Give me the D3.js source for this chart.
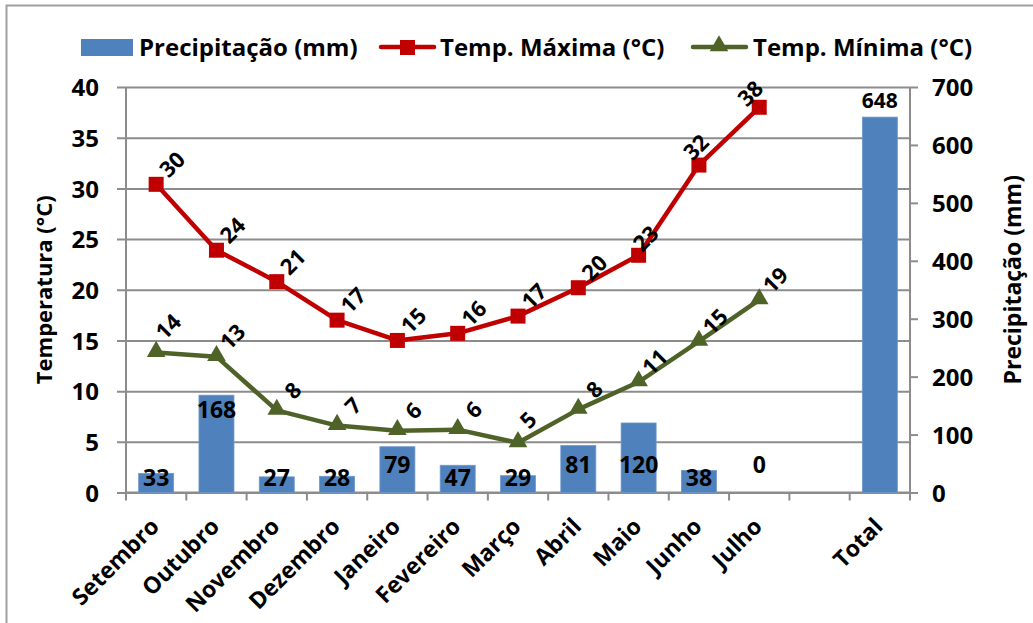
<!DOCTYPE html>
<html>
<head>
<meta charset="utf-8">
<script src="https://cdn.jsdelivr.net/npm/d3@7/dist/d3.min.js"></script>
<style>
  html, body { margin: 0; padding: 0; background: #fff; }
  svg { display: block; font-family: "Open Sans", Lato, sans-serif; font-weight: bold; }
</style>
</head>
<body>
<svg id="chart" width="1033" height="623"></svg>
<script>
// Monthly climate data
const months = ["Setembro", "Outubro", "Novembro", "Dezembro", "Janeiro", "Fevereiro",
                "Março", "Abril", "Maio", "Junho", "Julho"];
const totalLabel = "Total";
const precipitation = [33, 168, 27, 28, 79, 47, 29, 81, 120, 38, 0];
const precipitationTotal = 648;
const tempMax = [30.4, 23.9, 20.8, 17.0, 15.0, 15.7, 17.4, 20.2, 23.4, 32.3, 38.0];
const tempMin = [13.8, 13.4, 8.1, 6.6, 6.1, 6.2, 4.9, 8.2, 10.9, 14.9, 19.0];
const tempTicks = [0, 5, 10, 15, 20, 25, 30, 35, 40];
const precipTicks = [0, 100, 200, 300, 400, 500, 600, 700];

const C_BAR = "#4F81BD", C_MAX = "#C00000", C_MIN = "#4F6228", C_GRID = "#8C8C8C";

const svg = d3.select("#chart");
const pL = 126, pR = 910, pT = 87, pB = 492.5;

// Category slots: the months, a blank gap, then the total column
const cats = months.concat([" ", totalLabel]);
const x = d3.scaleBand().domain(cats).range([pL, pR]).paddingInner(0).paddingOuter(0);
const yT = d3.scaleLinear().domain([0, 40]).range([pB, pT]);
const yP = d3.scaleLinear().domain([0, 700]).range([pB, pT]);
const cx = c => x(c) + x.bandwidth() / 2;

// Outer frame
svg.append("rect").attr("x", 6.5).attr("y", 5.5).attr("width", 1040).attr("height", 640)
  .attr("fill", "none").attr("stroke", "#A0A0A0").attr("stroke-width", 2);

// Horizontal gridlines + left axis ticks
const gridAxis = d3.axisLeft(yT).tickValues(tempTicks).tickSize(-(pR - pL)).tickFormat(d3.format("d"));
const gL = svg.append("g").attr("transform", `translate(${pL},0)`).call(gridAxis);
gL.select(".domain").remove();
gL.selectAll(".tick line").attr("stroke", C_GRID).attr("stroke-width", 2).attr("x1", -9);
gL.selectAll(".tick text").attr("x", -27).attr("dy", "0.36em")
  .attr("font-size", 24).attr("fill", "#000").attr("font-family", "\"Open Sans\", sans-serif");

// Left axis line
svg.append("line").attr("x1", pL).attr("x2", pL).attr("y1", pT).attr("y2", pB + 7)
  .attr("stroke", C_GRID).attr("stroke-width", 2);

// Right axis
const gR = svg.append("g").attr("transform", `translate(${pR},0)`)
  .call(d3.axisRight(yP).tickValues(precipTicks).tickSize(8).tickFormat(d3.format("d")));
gR.select(".domain").attr("stroke", C_GRID).attr("stroke-width", 2).attr("d", `M0,${pT}V${pB + 7}`);
gR.selectAll(".tick line").attr("stroke", C_GRID).attr("stroke-width", 2);
gR.selectAll(".tick text").attr("x", 22).attr("dy", "0.36em")
  .attr("font-size", 24).attr("fill", "#000").attr("font-family", "\"Open Sans\", sans-serif");

// Bottom axis with ticks at category boundaries
svg.append("line").attr("x1", pL).attr("x2", pR).attr("y1", pB).attr("y2", pB)
  .attr("stroke", C_GRID).attr("stroke-width", 2);
svg.append("g").selectAll("line").data(cats.concat(["__end"])).join("line")
  .attr("x1", (d, i) => pL + i * x.bandwidth()).attr("x2", (d, i) => pL + i * x.bandwidth())
  .attr("y1", pB).attr("y2", pB + 8).attr("stroke", C_GRID).attr("stroke-width", 2);

// Category labels
svg.append("g").selectAll("text").data(cats).join("text")
  .attr("transform", d => `translate(${cx(d) - 7},${pB + 24}) rotate(-45)`)
  .attr("text-anchor", "end").attr("dy", "0.7em").attr("font-size", 23).attr("fill", "#000")
  .text(d => d.trim());

// Precipitation bars
const barData = months.map((m, i) => ({ cat: m, v: precipitation[i] }))
  .concat([{ cat: totalLabel, v: precipitationTotal, total: true }]);
const bw = 35;
svg.append("g").selectAll("rect").data(barData).join("rect")
  .attr("x", d => cx(d.cat) - bw / 2).attr("width", bw)
  .attr("y", d => yP(d.v)).attr("height", d => pB - yP(d.v))
  .attr("fill", C_BAR).attr("stroke", "#6F97CC").attr("stroke-width", 0.8);

// Bar value labels
function barLabelY(d) {
  if (d.total) return yP(d.v) - 17;
  if (d.v > 150) return yP(d.v) + 15;
  if (d.v >= 60 || d.v === 0) return 465;
  return 478;
}
svg.append("g").selectAll("text").data(barData).join("text")
  .attr("x", d => cx(d.cat)).attr("y", barLabelY).attr("dy", "0.36em")
  .attr("text-anchor", "middle").attr("font-size", d => d.total ? 21 : 23).attr("fill", "#000")
  .text(d => d3.format("d")(d.v));

// Temperature lines
const line = d3.line().x(d => cx(d.cat)).y(d => yT(d.v));
const maxData = months.map((m, i) => ({ cat: m, v: tempMax[i] }));
const minData = months.map((m, i) => ({ cat: m, v: tempMin[i] }));

svg.append("path").datum(maxData).attr("d", line).attr("fill", "none")
  .attr("stroke", C_MAX).attr("stroke-width", 4.5).attr("stroke-linejoin", "round");
svg.append("path").datum(minData).attr("d", line).attr("fill", "none")
  .attr("stroke", C_MIN).attr("stroke-width", 4.5).attr("stroke-linejoin", "round");

svg.append("g").selectAll("rect").data(maxData).join("rect")
  .attr("x", d => cx(d.cat) - 7.5).attr("y", d => yT(d.v) - 7.5)
  .attr("width", 15).attr("height", 15).attr("fill", C_MAX);

const tri = d3.symbol().type(d3.symbolTriangle).size(150);
svg.append("g").selectAll("path").data(minData).join("path")
  .attr("transform", d => `translate(${cx(d.cat)},${yT(d.v) - 1})`)
  .attr("d", tri).attr("fill", C_MIN);

// Rotated value labels above the line points
const labelShift = { max: { 8: [-9, 3], 9: [-19, 2], 10: [-25, 6] }, min: { 0: [-4, -6], 6: [-6, -3] } };
function addLineLabels(data, key) {
  svg.append("g").selectAll("text").data(data).join("text")
    .attr("transform", (d, i) => {
      const s = (labelShift[key][i]) || [0, 0];
      return `translate(${cx(d.cat) + 16 + s[0]},${yT(d.v) - 20 + s[1]}) rotate(-45)`;
    })
    .attr("text-anchor", "middle").attr("dy", "0.36em").attr("font-size", 22).attr("fill", "#000")
    .text(d => d3.format(".0f")(d.v));
}
addLineLabels(maxData, "max");
addLineLabels(minData, "min");

// Axis titles
svg.append("text").attr("transform", `translate(52,${(pT + pB) / 2}) rotate(-90)`)
  .attr("text-anchor", "middle").attr("font-size", 22).attr("fill", "#000").text("Temperatura (°C)");
svg.append("text").attr("transform", `translate(1021,${(pT + pB) / 2 - 10}) rotate(-90)`)
  .attr("text-anchor", "middle").attr("font-size", 23).attr("fill", "#000").text("Precipitação (mm)");

// Legend
const lg = svg.append("g").attr("font-size", 24).attr("fill", "#000");
lg.append("rect").attr("x", 81).attr("y", 39).attr("width", 52).attr("height", 17).attr("fill", C_BAR);
lg.append("text").attr("x", 139).attr("y", 47).attr("dy", "0.36em").text("Precipitação (mm)");
lg.append("line").attr("x1", 381).attr("x2", 434).attr("y1", 47).attr("y2", 47)
  .attr("stroke", C_MAX).attr("stroke-width", 4.5).attr("stroke-linecap", "round");
lg.append("rect").attr("x", 400).attr("y", 40).attr("width", 15).attr("height", 15).attr("fill", C_MAX);
lg.append("text").attr("x", 440).attr("y", 47).attr("dy", "0.36em").text("Temp. Máxima (°C)");
lg.append("line").attr("x1", 693).attr("x2", 746).attr("y1", 47).attr("y2", 47)
  .attr("stroke", C_MIN).attr("stroke-width", 4.5).attr("stroke-linecap", "round");
lg.append("path").attr("transform", "translate(719,46)").attr("d", tri).attr("fill", C_MIN);
lg.append("text").attr("x", 753).attr("y", 47).attr("dy", "0.36em").text("Temp. Mínima (°C)");
</script>
</body>
</html>
